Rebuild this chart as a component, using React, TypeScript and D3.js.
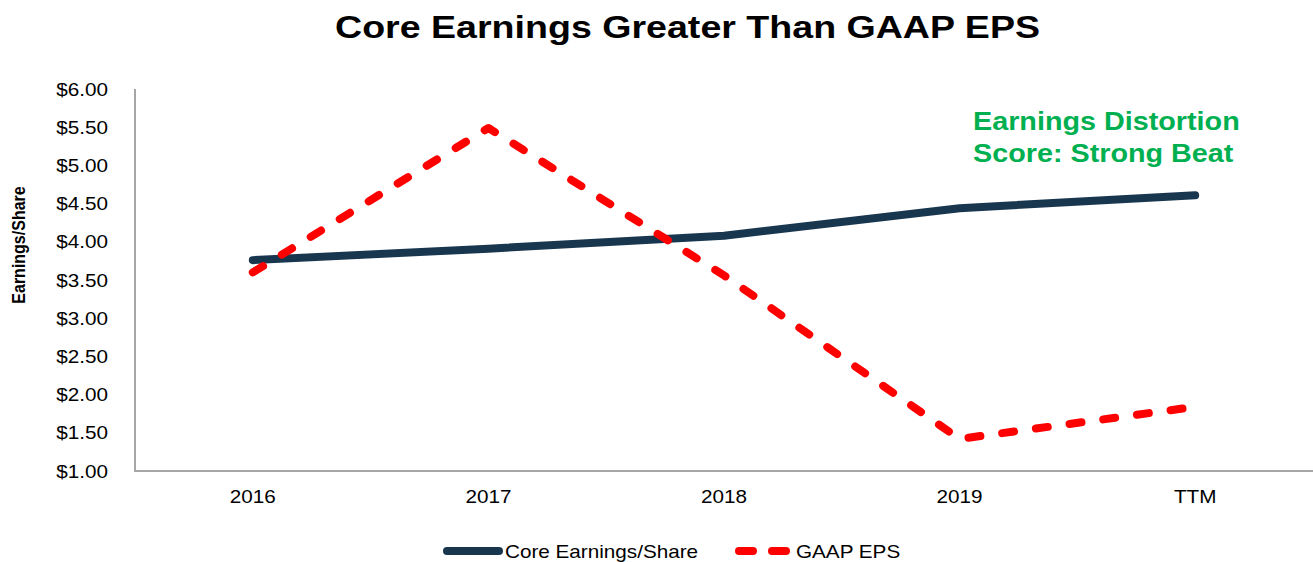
import React from "react";
import * as d3 from "d3";

const categories = ["2016", "2017", "2018", "2019", "TTM"];
const coreEps = [3.76, 3.91, 4.08, 4.44, 4.61];
const gaapEps = [3.6, 5.49, 3.56, 1.42, 1.84];
const yTicks = [1, 1.5, 2, 2.5, 3, 3.5, 4, 4.5, 5, 5.5, 6];
const seriesNames = ["Core Earnings/Share", "GAAP EPS"];

const W = 1313;
const H = 562;
const SX = 1.15;
const FONT = "Arial, 'Liberation Sans', Helvetica, sans-serif";
const CORE_COLOR = "#19364f";
const GAAP_COLOR = "#ff0000";
const AXIS_COLOR = "#a6a6a6";
const GREEN = "#00b050";

export default function App() {
  const x = d3.scalePoint<string>().domain(categories).range([135, 1313]).padding(0.5);
  const y = d3.scaleLinear().domain([1, 6]).range([471, 89]);
  const line = d3
    .line<number>()
    .x((_, i) => x(categories[i]) as number)
    .y((d) => y(d));

  const T = (props: {
    x: number;
    y: number;
    size: number;
    anchor?: string;
    weight?: string;
    fill?: string;
    children: React.ReactNode;
  }) => (
    <text
      transform={`translate(${props.x},${props.y}) scale(${SX},1)`}
      fontSize={props.size}
      fontFamily={FONT}
      textAnchor={props.anchor || "start"}
      fontWeight={props.weight || "normal"}
      fill={props.fill || "#000"}
    >
      {props.children}
    </text>
  );

  return (
    <svg
      width={W}
      height={H}
      style={{ position: "absolute", left: 0, top: 0, background: "#fff" }}
    >
      <rect x={0} y={0} width={W} height={H} fill="#fff" />
      {/* Title */}
      <text
        x={687.5}
        y={38}
        fontSize={32}
        fontWeight="bold"
        fontFamily={FONT}
        textAnchor="middle"
        textLength={705}
        lengthAdjust="spacingAndGlyphs"
      >
        Core Earnings Greater Than GAAP EPS
      </text>

      {/* Axes */}
      <line x1={135} x2={135} y1={y(6)} y2={y(1)} stroke={AXIS_COLOR} strokeWidth={2} />
      <line x1={134} x2={1313} y1={y(1)} y2={y(1)} stroke={AXIS_COLOR} strokeWidth={2} />

      {/* Y tick labels */}
      {yTicks.map((t) => (
        <T key={t} x={108} y={y(t) + 6.5} size={18} anchor="end">
          {d3.format("$.2f")(t)}
        </T>
      ))}

      {/* X tick labels */}
      {categories.map((c) => (
        <T key={c} x={x(c) as number} y={503} size={18} anchor="middle">
          {c}
        </T>
      ))}

      {/* Y axis title */}
      <text
        transform={`translate(25,245) scale(${SX},1) rotate(-90)`}
        fontSize={16}
        fontWeight="bold"
        fontFamily={FONT}
        textAnchor="middle"
      >
        Earnings/Share
      </text>

      {/* Lines */}
      <path
        d={line(coreEps) || ""}
        fill="none"
        stroke={CORE_COLOR}
        strokeWidth={8}
        strokeLinecap="round"
        strokeLinejoin="round"
      />
      <path
        d={line(gaapEps) || ""}
        fill="none"
        stroke={GAAP_COLOR}
        strokeWidth={8}
        strokeLinecap="round"
        strokeLinejoin="round"
        strokeDasharray="12 22"
      />

      {/* Annotation */}
      <T x={973} y={130} size={25} weight="bold" fill={GREEN}>
        Earnings Distortion
      </T>
      <T x={973} y={162} size={25} weight="bold" fill={GREEN}>
        Score: Strong Beat
      </T>

      {/* Legend */}
      <line x1={447} x2={499} y1={551} y2={551} stroke={CORE_COLOR} strokeWidth={8} strokeLinecap="round" />
      <T x={505} y={558} size={18}>
        {seriesNames[0]}
      </T>
      <line
        x1={739}
        x2={791}
        y1={551}
        y2={551}
        stroke={GAAP_COLOR}
        strokeWidth={8}
        strokeLinecap="round"
        strokeDasharray="14 19"
      />
      <T x={796} y={558} size={18}>
        {seriesNames[1]}
      </T>
    </svg>
  );
}
